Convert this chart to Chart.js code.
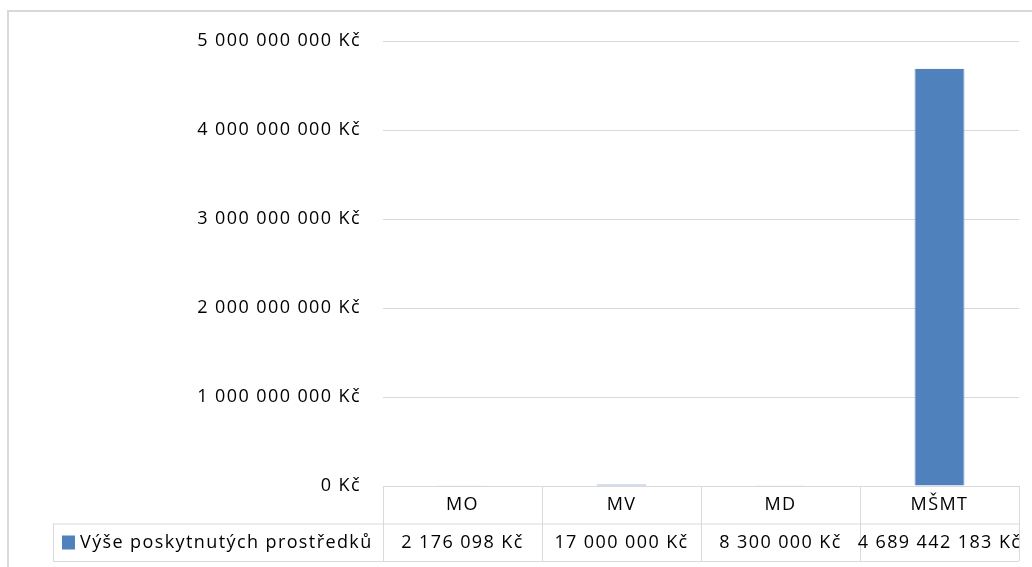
<!DOCTYPE html>
<html>
<head>
<meta charset="utf-8">
<script src="https://cdn.jsdelivr.net/npm/chart.js@4"></script>
<style>
  body { margin: 0; background: #fff; }
  canvas { display: block; }
</style>
</head>
<body>
<canvas id="chart" width="1032" height="567"></canvas>
<script>
document.addEventListener('DOMContentLoaded', function () {
    // Data
    const categories = ['MO', 'MV', 'MD', 'MŠMT'];
    const amounts = [2176098, 17000000, 8300000, 4689442183];
    const seriesName = 'Výše poskytnutých prostředků';
    const yTicks = [0, 1000000000, 2000000000, 3000000000, 4000000000, 5000000000];

    const fontFamily = '"Open Sans", sans-serif';
    const fontSize = 18;
    const letterSpacing = '1.4px'; // the source text is a bit wider than Open Sans
    const lineColor = '#d9d9d9';
    const barColor = '#4f81bd';

    // "4689442183" -> "4 689 442 183 Kč"
    function kc(v) {
        return String(Math.round(v)).replace(/\B(?=(\d{3})+(?!\d))/g, ' ') + ' Kč';
    }

    // Outer frame of the chart object
    const framePlugin = {
        id: 'frame',
        beforeDraw(chart) {
            const ctx = chart.ctx;
            ctx.letterSpacing = letterSpacing;
            ctx.save();
            ctx.strokeStyle = lineColor;
            ctx.lineWidth = 2;
            ctx.strokeRect(8, 11, 1200, 700);
            ctx.restore();
        }
    };

    // Excel-like data table under the plot
    const dataTablePlugin = {
        id: 'dataTable',
        afterDraw(chart) {
            const ctx = chart.ctx;
            const x = chart.scales.x;
            const area = chart.chartArea;
            const colW = (area.right - area.left) / categories.length;
            const rowH = 37.5;
            const top = area.bottom;
            const mid = top + rowH;
            const bottom = mid + rowH;
            const legendLeft = 53;

            ctx.save();
            ctx.strokeStyle = lineColor;
            ctx.lineWidth = 1;
            ctx.beginPath();
            ctx.moveTo(area.left, top + 0.5); ctx.lineTo(area.right, top + 0.5);
            ctx.moveTo(legendLeft, mid + 0.5); ctx.lineTo(area.right, mid + 0.5);
            ctx.moveTo(legendLeft, bottom + 0.5); ctx.lineTo(area.right, bottom + 0.5);
            ctx.moveTo(legendLeft + 0.5, mid); ctx.lineTo(legendLeft + 0.5, bottom);
            for (let i = 0; i <= categories.length; i++) {
                const px = Math.round(x.getPixelForValue(i) - colW / 2) + 0.5;
                ctx.moveTo(px, top); ctx.lineTo(px, bottom);
            }
            ctx.stroke();

            ctx.letterSpacing = letterSpacing;
            ctx.fillStyle = '#000';
            ctx.font = fontSize + 'px ' + fontFamily;
            ctx.textAlign = 'center';
            ctx.textBaseline = 'middle';
            categories.forEach(function (c, i) {
                const cx = x.getPixelForValue(i);
                ctx.fillText(c, cx, top + rowH / 2);
                ctx.fillText(kc(amounts[i]), cx, mid + rowH / 2 + 1);
            });

            // legend key + series name
            ctx.fillStyle = barColor;
            ctx.fillRect(62, mid + 12, 13, 14);
            ctx.fillStyle = '#000';
            ctx.textAlign = 'left';
            ctx.fillText(seriesName, 80, mid + rowH / 2 + 1);
            ctx.restore();
        }
    };

    const ctx = document.getElementById('chart').getContext('2d');
    new Chart(ctx, {
        type: 'bar',
        data: {
            labels: categories,
            datasets: [{
                label: seriesName,
                data: amounts,
                backgroundColor: barColor,
                borderColor: '#6f97c9',
                borderWidth: { left: 1, right: 1, top: 0, bottom: 0 },
                barPercentage: 0.314,
                categoryPercentage: 1
            }]
        },
        options: {
            responsive: false,
            devicePixelRatio: 1,
            animation: false,
            layout: { padding: { left: 0, top: 41, right: 13, bottom: 81 } },
            plugins: {
                legend: { display: false },
                tooltip: { enabled: false }
            },
            scales: {
                x: { display: false },
                y: {
                    min: 0,
                    max: 5000000000,
                    afterFit(scale) { scale.width = 383; },
                    afterBuildTicks(scale) {
                        scale.ticks = yTicks.map(function (v) { return { value: v }; });
                    },
                    border: { display: false },
                    grid: { color: lineColor, drawTicks: false },
                    ticks: {
                        padding: 22,
                        color: '#000',
                        font: { family: fontFamily, size: fontSize },
                        callback: function (v) { return kc(v); }
                    }
                }
            }
        },
        plugins: [framePlugin, dataTablePlugin]
    });
});
</script>
</body>
</html>
